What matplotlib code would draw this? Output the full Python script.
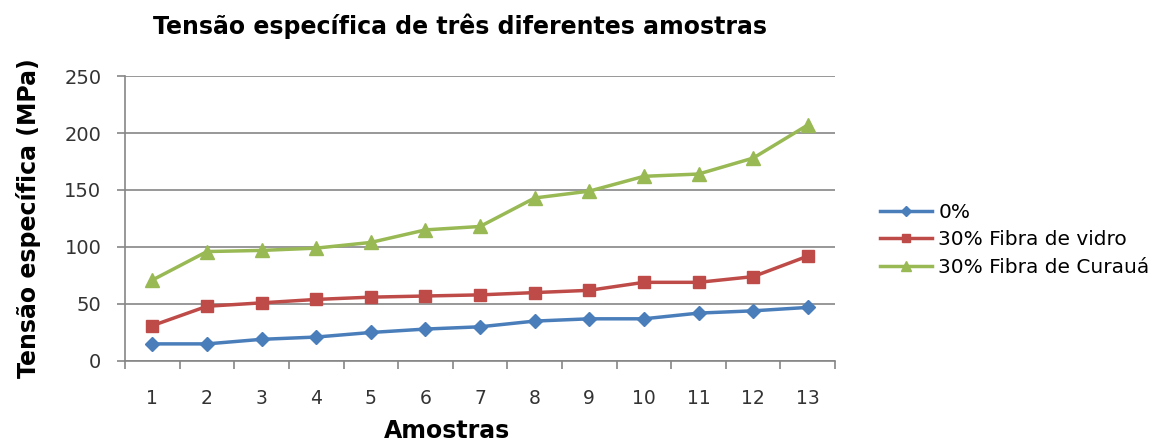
import numpy as np
import matplotlib
matplotlib.use('Agg')
import matplotlib.pyplot as plt

amostras = list(range(1, 14))
s_0 = [15, 15, 19, 21, 25, 28, 30, 35, 37, 37, 42, 44, 47]
s_vidro = [31, 48, 51, 54, 56, 57, 58, 60, 62, 69, 69, 74, 92]
s_curaua = [71, 96, 97, 99, 104, 115, 118, 143, 149, 162, 164, 178, 207]
labels = ['0%', '30% Fibra de vidro', '30% Fibra de Curauá']

plt.rcParams['font.family'] = ['DejaVu Sans']

fig = plt.figure(figsize=(11.73, 4.45), dpi=100)
ax = fig.add_axes([0.1066, 0.1888, 0.6053, 0.6404])

ax.plot(amostras, s_0, color='#4A7EBB', lw=2.5, marker='D', ms=7, label=labels[0])
ax.plot(amostras, s_vidro, color='#BE4B48', lw=2.5, marker='s', ms=9, label=labels[1])
ax.plot(amostras, s_curaua, color='#98B954', lw=2.5, marker='^', ms=10, label=labels[2])

ax.set_xlim(0.5, 13.5)
ax.set_ylim(0, 250)
ax.set_yticks(np.arange(0, 251, 50))
ax.set_xticks(amostras)
ax.set_xticks(np.arange(0.5, 13.6, 1), minor=True)
ax.tick_params(axis='x', which='major', length=0, pad=20, labelsize=13.5, colors='#333333')
ax.tick_params(axis='x', which='minor', length=6, color='#868686', width=1.2)
ax.tick_params(axis='y', length=6, color='#868686', width=1.2, labelsize=14, labelcolor='#333333', pad=11)
ax.grid(axis='y', color='#868686', lw=1.2)
ax.set_axisbelow(True)
for s in ['top', 'right']:
    ax.spines[s].set_visible(False)
for s in ['left', 'bottom']:
    ax.spines[s].set_color('#868686')
    ax.spines[s].set_linewidth(1.2)

ax.set_title('Tensão específica de três diferentes amostras', fontsize=17, fontweight='bold',
             pad=30, x=0.472)
ax.set_xlabel('Amostras', fontsize=17, fontweight='bold', labelpad=8, x=0.4535)
ax.set_ylabel('Tensão específica (MPa)', fontsize=17, fontweight='bold', labelpad=17)

ax.legend(loc='center left', bbox_to_anchor=(1.063, 0.4246), frameon=False, fontsize=14.5,
          borderpad=0, borderaxespad=0,
          handlelength=2.6, handletextpad=0.3, labelspacing=0.42, markerscale=0.7)

fig.savefig('out.png', dpi=100)
